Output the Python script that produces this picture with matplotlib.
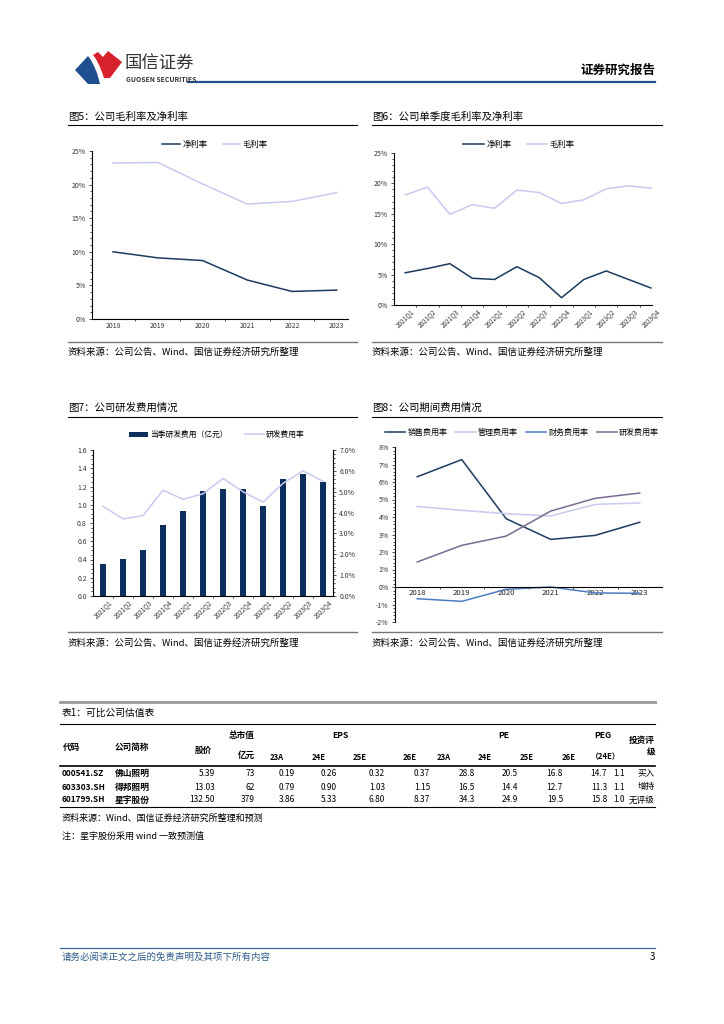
import numpy as np
import matplotlib
matplotlib.use("Agg")
import matplotlib.pyplot as plt
from matplotlib.lines import Line2D
from matplotlib.patches import Polygon
from matplotlib.ticker import MultipleLocator, FuncFormatter, FixedLocator

plt.rcParams["font.family"] = ["Noto Sans CJK SC", "DejaVu Sans"]
plt.rcParams["axes.unicode_minus"] = False

# %% data
years = ["2018", "2019", "2020", "2021", "2022", "2023"]
quarters = ["2021Q1", "2021Q2", "2021Q3", "2021Q4", "2022Q1", "2022Q2",
            "2022Q3", "2022Q4", "2023Q1", "2023Q2", "2023Q3", "2023Q4"]

net_margin_y = [10.0, 9.1, 8.7, 5.8, 4.1, 4.3]
gross_margin_y = [23.2, 23.3, 20.1, 17.1, 17.5, 18.8]

net_margin_q = [5.3, 6.0, 6.8, 4.4, 4.2, 6.3, 4.5, 1.2, 4.2, 5.6, 4.2, 2.8]
gross_margin_q = [18.1, 19.4, 14.9, 16.5, 15.9, 18.9, 18.5, 16.7, 17.3, 19.1, 19.6, 19.2]

rd_cost = [0.35, 0.41, 0.50, 0.78, 0.93, 1.15, 1.17, 1.17, 0.99, 1.28, 1.34, 1.25]
rd_rate_q = [4.3, 3.7, 3.85, 5.07, 4.64, 4.9, 5.64, 5.0, 4.5, 5.4, 6.0, 5.5]

sales_rate = [6.3, 7.28, 3.9, 2.72, 2.95, 3.7]
admin_rate = [4.6, 4.38, 4.19, 4.06, 4.72, 4.8]
fin_rate = [-0.67, -0.82, -0.13, 0.0, -0.34, -0.36]
rd_rate_y = [1.43, 2.38, 2.91, 4.34, 5.07, 5.37]

codes = ["000541.SZ", "603303.SH", "601799.SH"]
names = ["佛山照明", "得邦照明", "星宇股份"]
prices = [5.39, 13.03, 132.50]
mkt_cap = [73, 62, 379]
eps_23a = [0.19, 0.79, 3.86]
eps_24e = [0.26, 0.90, 5.33]
eps_25e = [0.32, 1.03, 6.80]
eps_26e = [0.37, 1.15, 8.37]
pe_23a = [28.8, 16.5, 34.3]
pe_24e = [20.5, 14.4, 24.9]
pe_25e = [16.8, 12.7, 19.5]
pe_26e = [14.7, 11.3, 15.8]
peg = [1.1, 1.1, 1.0]
ratings = ["买入", "增持", "无评级"]

# %% colors
NAVY = "#1c3a5e"
BAR = "#0d2f5e"
LAV = "#c8caf0"
BLUE = "#4d7cc4"
PURP = "#7b6b93"
SRC = "资料来源：公司公告、Wind、国信证券经济研究所整理"

W, H = 724, 1024
fig = plt.figure(figsize=(W / 100, H / 100), dpi=100)


def fx(x):
    return x / W


def fy(y):
    return 1 - y / H


def hline(x0, x1, y, color="black", lw=0.8):
    fig.add_artist(Line2D([fx(x0), fx(x1)], [fy(y), fy(y)], color=color, lw=lw))


def txt(x, y, s, **kw):
    kw.setdefault("va", "center")
    fig.text(fx(x), fy(y), s, **kw)


def add_ax(l, t, r, b):
    return fig.add_axes([fx(l), fy(b), (r - l) / W, (b - t) / H])


def style(ax):
    for s in ["top", "right"]:
        ax.spines[s].set_visible(False)
    for s in ["left", "bottom"]:
        ax.spines[s].set_linewidth(0.8)
    ax.tick_params(labelsize=5, length=2.5, width=0.6, pad=2, colors="#333333")
    ax.tick_params(which="minor", length=1.5, width=0.5)
    ax.patch.set_alpha(0)


def cat_ticks(ax, n):
    ax.set_xticks(range(n))
    ax.tick_params(axis="x", which="major", length=0)
    ax.xaxis.set_minor_locator(FixedLocator(np.arange(0.5, n - 1, 1.0)))


def legend(ax, cx, cy, ncol, fs=5.8, hl=2.5, cs=1.5):
    ax.legend(loc="center", bbox_to_anchor=(fx(cx), fy(cy)), bbox_transform=fig.transFigure,
              ncol=ncol, frameon=False, fontsize=fs, handlelength=hl, handletextpad=0.3,
              columnspacing=cs, borderpad=0)


def poly(pts, color):
    fig.add_artist(Polygon([[fx(a), fy(b)] for a, b in pts], closed=True,
                           transform=fig.transFigure, color=color, lw=0))


pct0 = FuncFormatter(lambda v, p: f"{v:.0f}%")

# %% header
poly([(75, 70), (88, 56), (91, 60), (94, 66), (97, 73), (99, 80), (100, 84), (88, 84)], "#1f4f8e")
poly([(93, 55), (98, 52), (103, 57), (108, 51), (122, 62), (110, 78), (104, 78),
      (102, 72), (99, 65), (96, 59)], "#d7222c")
txt(125, 64, "国信证券", fontsize=12.5, color="#333333", ha="left")
txt(126, 79, "GUOSEN SECURITIES", fontsize=4.9, color="#333333", ha="left", weight="bold")
txt(655, 70, "证券研究报告", fontsize=9, weight="bold", ha="right")
hline(188, 655, 82, color="#1f4f8e", lw=1.6)

# %% chart titles and source lines
txt(68, 117, "图5：公司毛利率及净利率", fontsize=7.5, ha="left")
txt(372, 117, "图6：公司单季度毛利率及净利率", fontsize=7.5, ha="left")
hline(68, 357, 125)
hline(372, 662, 125)
hline(68, 357, 342, color="#777777", lw=1.0)
hline(372, 662, 342, color="#777777", lw=1.0)
txt(68, 352, SRC, fontsize=6.8, ha="left")
txt(372, 352, SRC, fontsize=6.8, ha="left")

txt(68, 408, "图7：公司研发费用情况", fontsize=7.5, ha="left")
txt(372, 408, "图8：公司期间费用情况", fontsize=7.5, ha="left")
hline(68, 357, 417)
hline(372, 662, 417)
hline(68, 357, 632, color="#777777", lw=1.0)
hline(372, 662, 632, color="#777777", lw=1.0)
txt(68, 643, SRC, fontsize=6.8, ha="left")
txt(372, 643, SRC, fontsize=6.8, ha="left")

# %% chart 5
ax5 = add_ax(92, 151, 348, 319)
style(ax5)
x = np.arange(len(years))
ax5.plot(x, net_margin_y, color=NAVY, lw=1.1, label="净利率")
ax5.plot(x, gross_margin_y, color=LAV, lw=1.1, label="毛利率")
ax5.set_xlim(-0.47, 5.25)
ax5.set_ylim(0, 25)
ax5.yaxis.set_major_locator(MultipleLocator(5))
ax5.yaxis.set_minor_locator(MultipleLocator(1))
ax5.yaxis.set_major_formatter(pct0)
cat_ticks(ax5, len(years))
ax5.set_xticklabels(years)
legend(ax5, 215, 144, 2, fs=6, hl=2.1, cs=1.8)

# %% chart 6
ax6 = add_ax(394, 153, 652, 305)
style(ax6)
xq = np.arange(len(quarters))
ax6.plot(xq, net_margin_q, color=NAVY, lw=1.1, label="净利率")
ax6.plot(xq, gross_margin_q, color=LAV, lw=1.1, label="毛利率")
ax6.set_xlim(-0.5, 11.05)
ax6.set_ylim(0, 25)
ax6.yaxis.set_major_locator(MultipleLocator(5))
ax6.yaxis.set_minor_locator(MultipleLocator(1))
ax6.yaxis.set_major_formatter(pct0)
cat_ticks(ax6, len(quarters))
ax6.set_xticklabels(quarters, rotation=45, ha="center", va="top", fontsize=4.6)
legend(ax6, 519, 144, 2, fs=6, hl=2.5, cs=1.8)

# %% chart 7
ax7 = add_ax(93, 450, 333, 596)
style(ax7)
ax7.bar(xq, rd_cost, width=0.33, color=BAR, label="当季研发费用（亿元）")
ax7.set_xlim(-0.5, 11.5)
ax7.set_ylim(0, 1.6)
ax7.yaxis.set_major_locator(MultipleLocator(0.2))
ax7.yaxis.set_minor_locator(MultipleLocator(0.05))
ax7.yaxis.set_major_formatter(FuncFormatter(lambda v, p: f"{v:.1f}"))
cat_ticks(ax7, len(quarters))
ax7.set_xticklabels(quarters, rotation=45, ha="center", va="top", fontsize=4.6)
ax7b = ax7.twinx()
ax7b.plot(xq, rd_rate_q, color=LAV, lw=1.1, label="研发费用率")
ax7b.set_ylim(0, 7)
ax7b.spines["top"].set_visible(False)
ax7b.spines["left"].set_visible(False)
ax7b.spines["bottom"].set_visible(False)
ax7b.spines["right"].set_linewidth(0.8)
ax7b.yaxis.set_major_locator(MultipleLocator(1))
ax7b.yaxis.set_minor_locator(MultipleLocator(0.2))
ax7b.yaxis.set_major_formatter(FuncFormatter(lambda v, p: f"{v:.1f}%"))
ax7b.tick_params(labelsize=5, length=2.5, width=0.6, pad=2, colors="#333333")
ax7b.tick_params(which="minor", length=1.5, width=0.5)
h1, l1 = ax7.get_legend_handles_labels()
h2, l2 = ax7b.get_legend_handles_labels()
ax7b.legend(h1 + h2, l1 + l2, loc="center", bbox_to_anchor=(fx(217), fy(435)),
            bbox_transform=fig.transFigure, ncol=2, frameon=False, fontsize=5.6,
            handlelength=2.4, handletextpad=0.3, columnspacing=2.2, borderpad=0)

# %% chart 8
ax8 = add_ax(395, 447, 662, 622)
style(ax8)
ax8.plot(x, sales_rate, color=NAVY, lw=1.1, label="销售费用率")
ax8.plot(x, admin_rate, color=LAV, lw=1.1, label="管理费用率")
ax8.plot(x, fin_rate, color=BLUE, lw=1.1, label="财务费用率")
ax8.plot(x, rd_rate_y, color=PURP, lw=1.1, label="研发费用率")
ax8.set_xlim(-0.5, 5.5)
ax8.set_ylim(-2, 8)
ax8.spines["bottom"].set_position(("data", 0))
ax8.yaxis.set_major_locator(MultipleLocator(1))
ax8.yaxis.set_minor_locator(MultipleLocator(0.2))
ax8.yaxis.set_major_formatter(pct0)
cat_ticks(ax8, len(years))
ax8.set_xticklabels(years, fontsize=5.6, color="#222222")
ax8.tick_params(axis="x", pad=1.5)
legend(ax8, 522, 432, 4, fs=5.8, hl=2.5, cs=1.0)

# %% table
hline(60, 655, 702, color="#999999", lw=2.0)
txt(62, 713, "表1：可比公司估值表", fontsize=7, ha="left")
hline(60, 655, 724, lw=0.8)
hline(60, 655, 766, lw=1.2)
hline(60, 655, 807, lw=0.8)

hfs = 6.2
txt(63, 747, "代码", fontsize=hfs, weight="bold", ha="left")
txt(115, 747, "公司简称", fontsize=hfs, weight="bold", ha="left")
txt(212, 750, "股价", fontsize=hfs, weight="bold", ha="right")
txt(255, 735, "总市值", fontsize=hfs, weight="bold", ha="right")
txt(255, 755, "亿元", fontsize=hfs, weight="bold", ha="right")
txt(340, 736, "EPS", fontsize=hfs, weight="bold", ha="center")
txt(504, 736, "PE", fontsize=hfs, weight="bold", ha="center")
txt(603, 736, "PEG", fontsize=hfs, weight="bold", ha="center")
txt(655, 740, "投资评", fontsize=hfs, weight="bold", ha="right")
txt(655, 753, "级", fontsize=hfs, weight="bold", ha="right")
sub_x = [270, 312, 353, 403, 437, 478, 520, 562]
for sx, lab in zip(sub_x, ["23A", "24E", "25E", "26E"] * 2):
    txt(sx, 757, lab, fontsize=5.6, weight="bold", ha="left")
txt(591, 757, "（24E）", fontsize=5.6, weight="bold", ha="left")

row_y = [773, 787, 800]
col_r = [295, 337, 385, 430, 475, 518, 563, 607]
for i, ry in enumerate(row_y):
    txt(62, ry, codes[i], fontsize=6, weight="bold", ha="left")
    txt(115, ry, names[i], fontsize=6.3, weight="bold", ha="left")
    txt(215, ry, f"{prices[i]:.2f}", fontsize=6, ha="right")
    txt(255, ry, f"{mkt_cap[i]}", fontsize=6, ha="right")
    vals = [eps_23a[i], eps_24e[i], eps_25e[i], eps_26e[i]]
    for cx, v in zip(col_r[:4], vals):
        txt(cx, ry, f"{v:.2f}", fontsize=6, ha="right")
    vals = [pe_23a[i], pe_24e[i], pe_25e[i], pe_26e[i]]
    for cx, v in zip(col_r[4:], vals):
        txt(cx, ry, f"{v:.1f}", fontsize=6, ha="right")
    txt(625, ry, f"{peg[i]:.1f}", fontsize=6, ha="right")
    txt(655, ry, ratings[i], fontsize=6.2, ha="right")

txt(62, 818, "资料来源：Wind、国信证券经济研究所整理和预测", fontsize=6.5, ha="left")
txt(62, 836, "注：星宇股份采用 wind 一致预测值", fontsize=6.5, ha="left")

# %% footer
hline(60, 655, 948, color="#3a6a9a", lw=0.9)
txt(62, 957, "请务必阅读正文之后的免责声明及其项下所有内容", fontsize=6.8,
    ha="left", style="italic", color="#2e5c8a")
txt(655, 957, "3", fontsize=7, ha="right")

fig.savefig("out.png", dpi=100)
